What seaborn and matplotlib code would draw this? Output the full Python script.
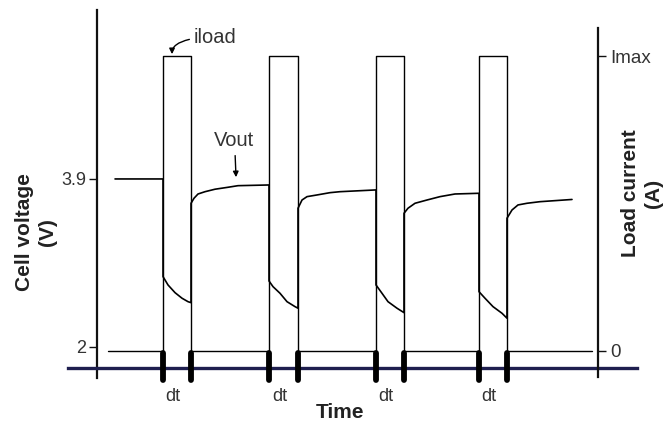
import matplotlib
matplotlib.use("Agg")
import matplotlib.pyplot as plt
import matplotlib.transforms as mtransforms
import seaborn as sns
import pandas as pd

# ---- data (time in arbitrary units, voltage in V, current relative to Imax) ----
time_v = [1.8, 6.6, 6.6, 7.1, 7.8, 8.5, 9.1, 9.4,
          9.4, 9.7, 10.1, 10.8, 11.8, 13.1, 14.1, 17.2,
          17.2, 17.6, 18.3, 19.0, 19.8, 20.1,
          20.1, 20.5, 21.0, 22.0, 23.3, 24.3, 27.9,
          27.9, 28.5, 29.1, 30.0, 30.7,
          30.7, 31.1, 31.8, 33.0, 34.3, 35.8, 38.2,
          38.2, 38.8, 39.6, 40.5, 41.0,
          41.0, 41.5, 42.1, 43.0, 44.3, 47.5]
volt = [3.90, 3.90, 2.795, 2.701, 2.614, 2.551, 2.512, 2.501,
        3.625, 3.682, 3.730, 3.756, 3.784, 3.806, 3.824, 3.832,
        2.746, 2.682, 2.607, 2.512, 2.456, 2.438,
        3.569, 3.662, 3.700, 3.719, 3.745, 3.756, 3.776,
        2.701, 2.607, 2.512, 2.438, 2.388,
        3.512, 3.569, 3.625, 3.662, 3.700, 3.730, 3.738,
        2.625, 2.551, 2.456, 2.381, 2.325,
        3.456, 3.549, 3.606, 3.625, 3.643, 3.668]

current_t = [1.1, 6.6, 9.4, 17.2, 20.1, 27.9, 30.7, 38.2, 41.0, 49.5]
current = [0, 1, 0, 1, 0, 1, 0, 1, 0, 0]

pulse_start = [6.6, 17.2, 27.9, 38.2]
pulse_end = [9.4, 20.1, 30.7, 41.0]

v_ticks = [2, 3.9]
v_ticklabels = ["2", "3.9"]
i_ticks = [0, 1]
i_ticklabels = ["0", "Imax"]

TXT = "#333333"

sns.set_style("white")
plt.rcParams["font.family"] = ["Liberation Sans", "DejaVu Sans"]

fig = plt.figure(figsize=(6.67, 4.23), dpi=100)
ax = fig.add_axes([0.102, 0.1064, 0.853, 0.870])
ax2 = ax.twinx()
ax.patch.set_visible(False)
ax2.patch.set_visible(False)

df_v = pd.DataFrame({"t": time_v, "V": volt})
sns.lineplot(data=df_v, x="t", y="V", ax=ax, estimator=None, sort=False,
             color="black", lw=1.2)

df_i = pd.DataFrame({"t": current_t, "I": current})
sns.lineplot(data=df_i, x="t", y="I", ax=ax2, estimator=None, sort=False,
             color="black", lw=1.0, drawstyle="steps-post")

ax.set_xlim(-2.9, 54.0)
ax.set_ylim(1.649, 5.811)
ax2.set_ylim(-0.0935, 1.1582)

# spines
ax.spines["top"].set_visible(False)
ax.spines["right"].set_visible(False)
ax.spines["left"].set_position(("data", 0))
ax.spines["left"].set_linewidth(1.6)
ax.spines["left"].set_color("#111111")
ax.spines["bottom"].set_position(("data", 1.7625))
ax.spines["bottom"].set_linewidth(2.4)
ax.spines["bottom"].set_color("#1f1f4f")
for s in ["top", "left", "bottom"]:
    ax2.spines[s].set_visible(False)
ax2.spines["right"].set_position(("data", 50.1))
ax2.spines["right"].set_bounds(-0.09, 1.0986)
ax2.spines["right"].set_linewidth(1.6)
ax2.spines["right"].set_color("#111111")

# ticks
ax.set_xticks([])
ax.set_yticks(v_ticks)
ax.set_yticklabels(v_ticklabels)
ax.tick_params(axis="y", direction="out", length=6, width=1, color="#111111",
               labelsize=13, labelcolor=TXT, pad=1.5, left=True)
ax2.set_yticks(i_ticks)
ax2.set_yticklabels(i_ticklabels)
ax2.tick_params(axis="y", direction="out", length=6, width=1, color="#111111",
                labelsize=13.5, labelcolor=TXT, pad=3, right=True)
ax.set_xlabel("")
ax.set_ylabel("")
ax2.set_xlabel("")
ax2.set_ylabel("")

# dt markers at pulse edges
edges = pulse_start + pulse_end
bars = ax2.vlines(edges, -0.102, -0.009, colors="black", lw=4.2, clip_on=False)
bars.set_capstyle("round")

trans = mtransforms.blended_transform_factory(ax.transData, ax.transAxes)
for s, e in zip(pulse_start, pulse_end):
    ax.text((s + e) / 2 - 0.4, -0.049, "dt", transform=trans, ha="center",
            va="center", fontsize=13, color=TXT)

# annotations
ax.annotate("Vout", xy=(13.9, 3.92), xytext=(13.75, 4.34), ha="center",
            va="center", fontsize=14.5, color=TXT,
            arrowprops=dict(arrowstyle="-|>", color="black", lw=1,
                            mutation_scale=8, shrinkA=2, shrinkB=0))
ax2.annotate("iload", xy=(7.5, 1.008), xytext=(9.7, 1.066), ha="left",
             va="center", fontsize=14.5, color=TXT,
             arrowprops=dict(arrowstyle="-|>", color="black", lw=1,
                             mutation_scale=8, shrinkA=1, shrinkB=0,
                             connectionstyle="angle3,angleA=0,angleB=90"))

# axis titles
fig.text(36 / 667, 1 - 232 / 423, "Cell voltage\n(V)", rotation=90,
         ha="center", va="center", multialignment="center",
         fontsize=15, fontweight="bold", color="#222222", linespacing=1.3)
fig.text(642 / 667, 1 - 193 / 423, "Load current\n(A)", rotation=90,
         ha="center", va="center", multialignment="center",
         fontsize=15, fontweight="bold", color="#222222", linespacing=1.3)
fig.text(340 / 667, 1 - 412 / 423, "Time", ha="center", va="center",
         fontsize=15, fontweight="bold", color="#222222")

fig.savefig("out.png", dpi=100)
